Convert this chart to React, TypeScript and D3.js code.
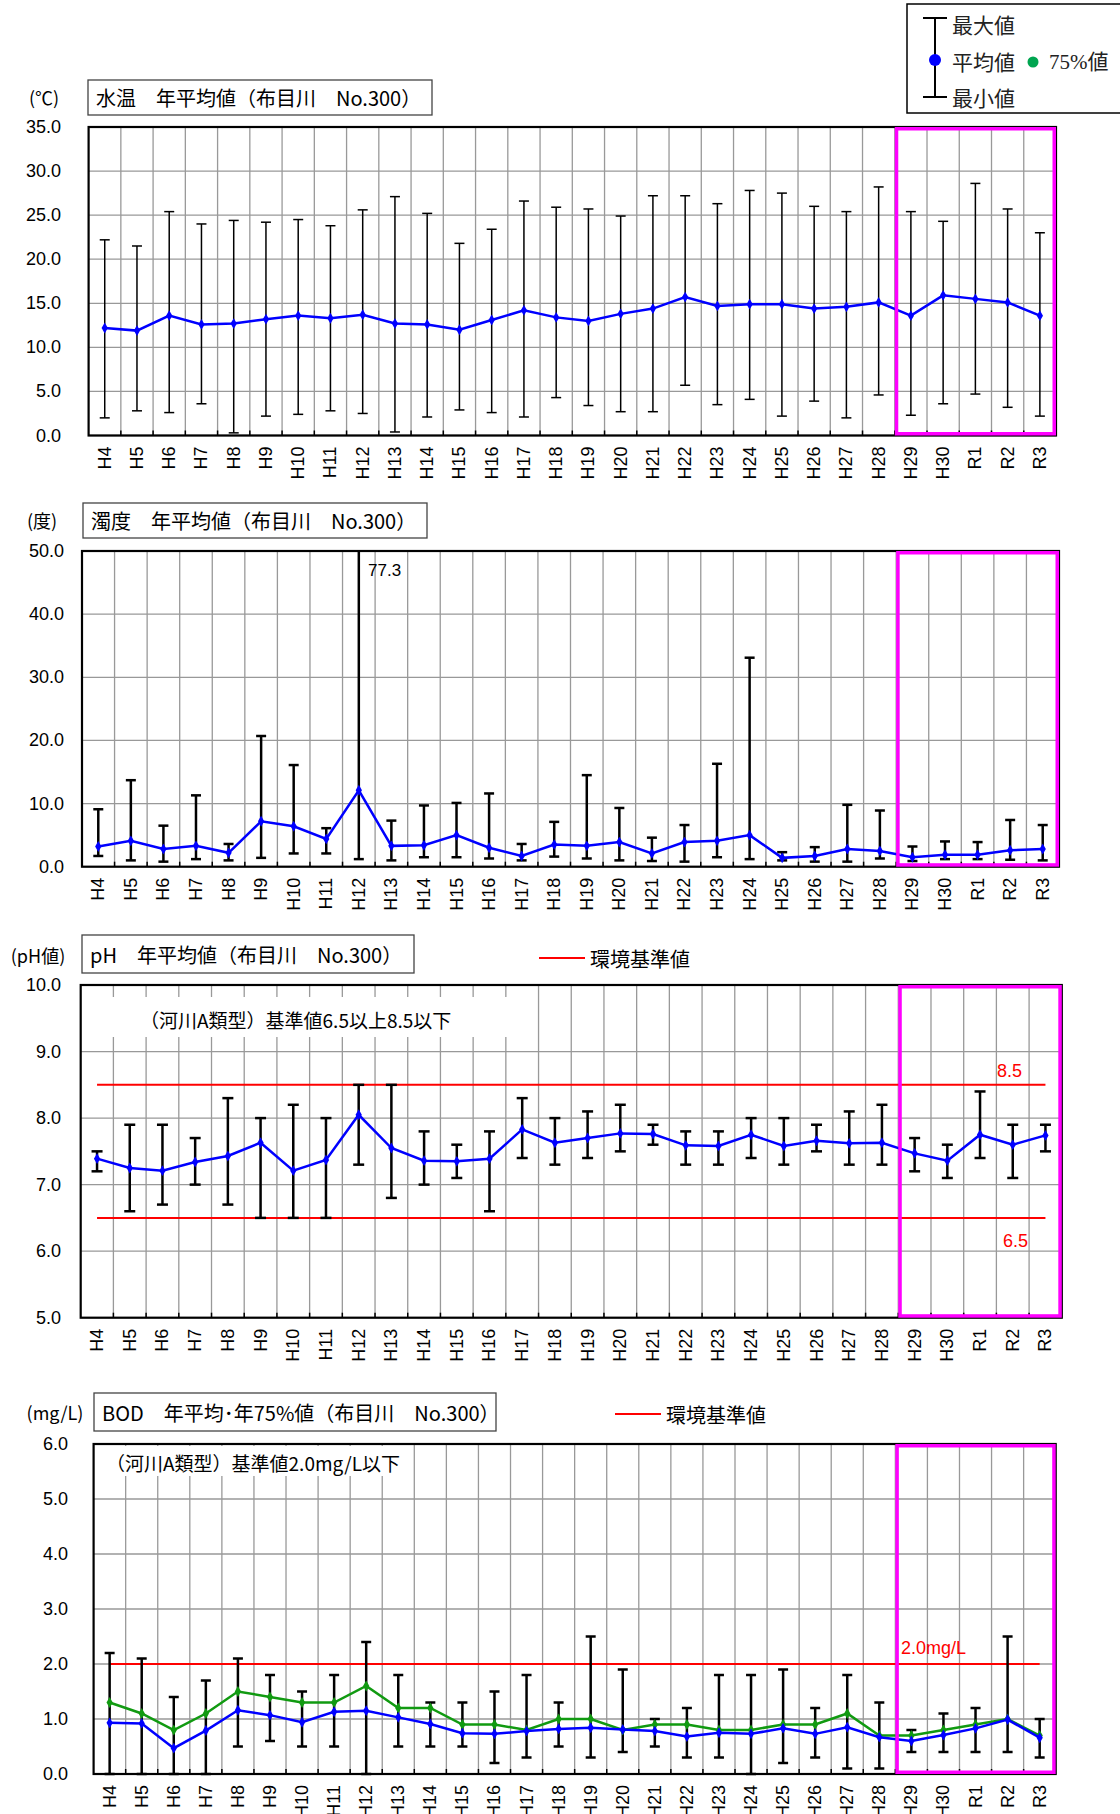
import React from "react";
import * as d3 from "d3";

const categories = [
  "H4", "H5", "H6", "H7", "H8", "H9", "H10", "H11", "H12", "H13",
  "H14", "H15", "H16", "H17", "H18", "H19", "H20", "H21", "H22", "H23",
  "H24", "H25", "H26", "H27", "H28", "H29", "H30", "R1", "R2", "R3",
];

// 水温
const tempMax = [22.2, 21.5, 25.4, 24.0, 24.4, 24.2, 24.5, 23.8, 25.6, 27.1, 25.2, 21.8, 23.4, 26.6, 25.9, 25.7, 24.9, 27.2, 27.2, 26.3, 27.8, 27.5, 26.0, 25.4, 28.2, 25.4, 24.3, 28.6, 25.7, 23.0];
const tempMean = [12.2, 11.9, 13.6, 12.6, 12.7, 13.2, 13.6, 13.3, 13.7, 12.7, 12.6, 12.0, 13.1, 14.2, 13.4, 13.0, 13.8, 14.4, 15.7, 14.7, 14.9, 14.9, 14.4, 14.6, 15.1, 13.6, 15.9, 15.5, 15.1, 13.6];
const tempMin = [2.0, 2.8, 2.6, 3.6, 0.3, 2.2, 2.4, 2.8, 2.5, 0.4, 2.1, 2.9, 2.6, 2.1, 4.3, 3.4, 2.7, 2.7, 5.7, 3.5, 4.1, 2.2, 3.9, 2.0, 4.6, 2.3, 3.6, 4.7, 3.2, 2.2];

// 濁度
const turbMax = [9.1, 13.7, 6.5, 11.3, 3.6, 20.7, 16.1, 6.1, 77.3, 7.3, 9.7, 10.1, 11.6, 3.6, 7.1, 14.5, 9.3, 4.6, 6.6, 16.3, 33.1, 2.3, 3.1, 9.8, 8.9, 3.2, 4.0, 3.9, 7.4, 6.6];
const turbMean = [3.2, 4.1, 2.8, 3.3, 2.2, 7.2, 6.4, 4.4, 12.1, 3.3, 3.4, 5.0, 3.0, 1.7, 3.5, 3.3, 3.9, 2.1, 3.9, 4.1, 5.0, 1.4, 1.7, 2.8, 2.5, 1.5, 1.9, 1.9, 2.6, 2.8];
const turbMin = [1.7, 1.0, 0.8, 1.2, 1.0, 1.4, 2.1, 2.1, 1.2, 1.0, 1.5, 1.5, 1.3, 1.0, 1.6, 1.3, 1.0, 0.9, 0.8, 1.5, 1.2, 1.0, 0.8, 0.8, 1.3, 0.9, 1.2, 1.2, 1.1, 1.0];

// pH
const phMax = [7.5, 7.9, 7.9, 7.7, 8.3, 8.0, 8.2, 8.0, 8.5, 8.5, 7.8, 7.6, 7.8, 8.3, 8.0, 8.1, 8.2, 7.9, 7.8, 7.8, 8.0, 8.0, 7.9, 8.1, 8.2, 7.7, 7.6, 8.4, 7.9, 7.9];
const phMean = [7.39, 7.25, 7.21, 7.34, 7.43, 7.63, 7.21, 7.37, 8.05, 7.55, 7.36, 7.35, 7.39, 7.83, 7.63, 7.7, 7.77, 7.76, 7.59, 7.58, 7.75, 7.58, 7.66, 7.62, 7.63, 7.47, 7.36, 7.75, 7.6, 7.74];
const phMin = [7.2, 6.6, 6.7, 7.0, 6.7, 6.5, 6.5, 6.5, 7.3, 6.8, 7.0, 7.1, 6.6, 7.4, 7.3, 7.4, 7.5, 7.6, 7.3, 7.3, 7.4, 7.3, 7.5, 7.3, 7.3, 7.2, 7.1, 7.4, 7.1, 7.5];
const phStandards = [8.5, 6.5];

// BOD
const bodMax = [2.2, 2.1, 1.4, 1.7, 2.1, 1.8, 1.5, 1.8, 2.4, 1.8, 1.3, 1.3, 1.5, 1.8, 1.3, 2.5, 1.9, 1.0, 1.2, 1.8, 1.8, 1.9, 1.2, 1.8, 1.3, 0.8, 1.1, 1.2, 2.5, 1.0];
const bodMean = [0.93, 0.92, 0.47, 0.79, 1.16, 1.07, 0.94, 1.13, 1.15, 1.03, 0.91, 0.74, 0.73, 0.78, 0.82, 0.84, 0.81, 0.78, 0.68, 0.75, 0.73, 0.83, 0.73, 0.85, 0.67, 0.6, 0.71, 0.83, 0.99, 0.66];
const bod75 = [1.3, 1.1, 0.8, 1.1, 1.5, 1.4, 1.3, 1.3, 1.6, 1.2, 1.2, 0.9, 0.9, 0.8, 1.0, 1.0, 0.8, 0.9, 0.9, 0.8, 0.8, 0.9, 0.9, 1.1, 0.7, 0.7, 0.8, 0.9, 1.0, 0.7];
const bodMin = [0.0, 0.0, 0.0, 0.0, 0.5, 0.6, 0.5, 0.5, 0.0, 0.5, 0.5, 0.5, 0.2, 0.3, 0.5, 0.3, 0.4, 0.5, 0.3, 0.3, 0.0, 0.2, 0.3, 0.1, 0.1, 0.4, 0.4, 0.4, 0.4, 0.3];
const bodStandards = [2.0];

const FONT = "'Liberation Sans', Arial, 'Noto Sans CJK JP', sans-serif";
const JFONT = "'Noto Sans CJK JP', 'Liberation Sans', sans-serif";
const BLUE = "#0000ff";
const GREEN = "#119a11";
const RED = "#ff0000";
const MAGENTA = "#ff00ff";

type RefLine = { v: number; label: string; lx: number; ly: number; anchor?: string };

type ChartProps = {
  left: number; right: number; top: number; bottom: number;
  domain: [number, number]; step: number; tickRight: number;
  maxArr: number[]; meanArr: number[]; minArr: number[]; p75Arr?: number[];
  barWidth: number; capW: number;
  refLines?: RefLine[];
  annotation?: { text: string; x: number; y: number; box: [number, number, number, number] };
  overflow?: { label: string; x: number; y: number };
};

function Chart(p: ChartProps) {
  const x = d3.scaleBand<string>().domain(categories).range([p.left, p.right]);
  const bw = x.bandwidth();
  const cx = (i: number) => (x(categories[i]) as number) + bw / 2;
  const y = d3.scaleLinear().domain(p.domain).range([p.bottom, p.top]);
  const ticks = d3.range(p.domain[0], p.domain[1] + p.step / 2, p.step);
  const line = d3.line<number>().x((_, i) => cx(i)).y((d) => y(d));
  const diamond = d3.symbol().type(d3.symbolDiamond).size(34)() as string;
  const boundaries = categories.map((c) => x(c) as number).slice(1);
  const magX = x("H29") as number;

  return (
    <g>
      {/* grid */}
      {ticks.map((t) => (
        <line key={"h" + t} x1={p.left} x2={p.right} y1={y(t)} y2={y(t)} stroke="#999" strokeWidth={1.3} />
      ))}
      {boundaries.map((bx, i) => (
        <line key={"v" + i} x1={bx} x2={bx} y1={p.top} y2={p.bottom} stroke="#999" strokeWidth={1.3} />
      ))}
      {boundaries.map((bx, i) => (
        <line key={"t" + i} x1={bx} x2={bx} y1={p.bottom - 5} y2={p.bottom} stroke="#000" strokeWidth={1.5} />
      ))}
      {/* annotation box */}
      {p.annotation && (
        <g>
          <rect x={p.annotation.box[0]} y={p.annotation.box[1]} width={p.annotation.box[2] - p.annotation.box[0]}
            height={p.annotation.box[3] - p.annotation.box[1]} fill="#fff" />
          <text x={p.annotation.x} y={p.annotation.y} fontFamily={JFONT} fontSize={19} dominantBaseline="central" fill="#000">
            {p.annotation.text}
          </text>
        </g>
      )}
      {/* reference lines */}
      {p.refLines && p.refLines.map((r) => (
        <g key={"r" + r.v}>
          <line x1={cx(0)} x2={cx(categories.length - 1)} y1={y(r.v)} y2={y(r.v)} stroke={RED} strokeWidth={2} />
          <text x={r.lx} y={r.ly} fill={RED} fontFamily={FONT} fontSize={18} dominantBaseline="central" textAnchor={r.anchor || "start"}>
            {r.label}
          </text>
        </g>
      ))}
      {/* error bars */}
      {categories.map((c, i) => {
        const yt = Math.max(y(p.maxArr[i]), p.top);
        const clipped = y(p.maxArr[i]) < p.top;
        const yb = y(p.minArr[i]);
        const X = cx(i);
        return (
          <g key={"e" + c} stroke="#000" strokeWidth={p.barWidth}>
            <line x1={X} x2={X} y1={yt} y2={yb} />
            {!clipped && <line x1={X - p.capW / 2} x2={X + p.capW / 2} y1={yt} y2={yt} />}
            <line x1={X - p.capW / 2} x2={X + p.capW / 2} y1={yb} y2={yb} />
          </g>
        );
      })}
      {p.overflow && (
        <text x={p.overflow.x} y={p.overflow.y} fontFamily={FONT} fontSize={17} dominantBaseline="central" fill="#000">
          {p.overflow.label}
        </text>
      )}
      {/* 75% series */}
      {p.p75Arr && (
        <g>
          <path d={line(p.p75Arr) as string} fill="none" stroke={GREEN} strokeWidth={2.5} />
          {p.p75Arr.map((v, i) => (
            <path key={"g" + i} d={diamond} transform={`translate(${cx(i)},${y(v)})`} fill={GREEN} />
          ))}
        </g>
      )}
      {/* mean series */}
      <path d={line(p.meanArr) as string} fill="none" stroke={BLUE} strokeWidth={2.5} />
      {p.meanArr.map((v, i) => (
        <path key={"m" + i} d={diamond} transform={`translate(${cx(i)},${y(v)})`} fill={BLUE} />
      ))}
      {/* frame */}
      <rect x={p.left} y={p.top} width={p.right - p.left} height={p.bottom - p.top} fill="none" stroke="#000" strokeWidth={2.2} />
      {/* magenta highlight */}
      <rect x={magX + 1.75} y={p.top + 1.75} width={p.right - magX - 3.5} height={p.bottom - p.top - 3.5}
        fill="none" stroke={MAGENTA} strokeWidth={3.5} />
      {/* y tick labels */}
      {ticks.map((t) => (
        <text key={"yl" + t} x={p.tickRight} y={y(t)} textAnchor="end" dominantBaseline="central"
          fontFamily={FONT} fontSize={18} fill="#000">
          {t.toFixed(1)}
        </text>
      ))}
      {/* x tick labels */}
      {categories.map((c, i) => (
        <text key={"xl" + c} transform={`translate(${cx(i)},${p.bottom + 11}) rotate(-90)`} textAnchor="end"
          dominantBaseline="central" fontFamily={FONT} fontSize={18} fill="#000">
          {c}
        </text>
      ))}
    </g>
  );
}

function TitleBox({ x0, x1, y0, y1, text }: { x0: number; x1: number; y0: number; y1: number; text: string }) {
  return (
    <g>
      <rect x={x0} y={y0} width={x1 - x0} height={y1 - y0} fill="#fff" stroke="#444" strokeWidth={1.3} />
      <text x={x0 + 8} y={(y0 + y1) / 2} dominantBaseline="central" fontFamily={JFONT} fontSize={20} fill="#000">
        {text}
      </text>
    </g>
  );
}

function Unit({ x, y, text }: { x: number; y: number; text: string }) {
  return (
    <text x={x} y={y} textAnchor="middle" dominantBaseline="central" fontFamily={JFONT} fontSize={18} fill="#000">
      {text}
    </text>
  );
}

function StdLegend({ x, y }: { x: number; y: number }) {
  return (
    <g>
      <line x1={x} x2={x + 46} y1={y} y2={y} stroke={RED} strokeWidth={2} />
      <text x={x + 51} y={y} dominantBaseline="central" fontFamily={JFONT} fontSize={20} fill="#000">環境基準値</text>
    </g>
  );
}

export default function App() {
  return (
    <svg width={1120} height={1814} style={{ position: "absolute", left: 0, top: 0, display: "block", background: "#fff" }}>
      <rect x={0} y={0} width={1120} height={1814} fill="#fff" />

      {/* legend */}
      <g>
        <rect x={907} y={4} width={220} height={109} fill="#fff" stroke="#000" strokeWidth={1.5} />
        <line x1={935} x2={935} y1={18} y2={97} stroke="#000" strokeWidth={2} />
        <line x1={923} x2={947} y1={18} y2={18} stroke="#000" strokeWidth={2} />
        <line x1={923} x2={947} y1={97} y2={97} stroke="#000" strokeWidth={2} />
        <circle cx={935} cy={60} r={6} fill={BLUE} />
        <text x={952} y={24} dominantBaseline="central" fontFamily={JFONT} fontSize={21} fill="#222">最大値</text>
        <text x={952} y={61} dominantBaseline="central" fontFamily={JFONT} fontSize={21} fill="#222">平均値</text>
        <text x={952} y={97} dominantBaseline="central" fontFamily={JFONT} fontSize={21} fill="#222">最小値</text>
        <circle cx={1033} cy={62} r={5.5} fill="#00a550" />
        <text x={1049} y={62} dominantBaseline="central" fontFamily="'Liberation Serif', 'Noto Sans CJK JP', serif" fontSize={21} fill="#222">75%値</text>
      </g>

      {/* Chart 1: 水温 */}
      <Unit x={44} y={97} text="(℃)" />
      <TitleBox x0={88} x1={432} y0={80} y1={115} text="水温　年平均値（布目川　No.300）" />
      <Chart left={88.6} right={1056} top={127} bottom={435.5} domain={[0, 35]} step={5} tickRight={61}
        maxArr={tempMax} meanArr={tempMean} minArr={tempMin} barWidth={1.5} capW={10} />

      {/* Chart 2: 濁度 */}
      <Unit x={42} y={520} text="(度)" />
      <TitleBox x0={83} x1={427} y0={503} y1={538} text="濁度　年平均値（布目川　No.300）" />
      <Chart left={82} right={1059} top={551} bottom={866.7} domain={[0, 50]} step={10} tickRight={64}
        maxArr={turbMax} meanArr={turbMean} minArr={turbMin} barWidth={2.5} capW={10}
        overflow={{ label: "77.3", x: 368, y: 570 }} />

      {/* Chart 3: pH */}
      <Unit x={38} y={955} text="(pH値)" />
      <TitleBox x0={82} x1={414} y0={935} y1={973} text="pH　年平均値（布目川　No.300）" />
      <StdLegend x={539} y={958} />
      <Chart left={80.7} right={1061.8} top={985} bottom={1317.7} domain={[5, 10]} step={1} tickRight={61}
        maxArr={phMax} meanArr={phMean} minArr={phMin} barWidth={2.5} capW={11}
        refLines={[
          { v: phStandards[0], label: "8.5", lx: 997, ly: 1071 },
          { v: phStandards[1], label: "6.5", lx: 1003, ly: 1241 },
        ]}
        annotation={{ text: "（河川A類型）基準値6.5以上8.5以下", x: 140, y: 1019, box: [82, 997, 520, 1037] }} />

      {/* Chart 4: BOD */}
      <Unit x={55} y={1412} text="(mg/L)" />
      <TitleBox x0={94} x1={496} y0={1393} y1={1431} text="BOD　年平均･年75%値（布目川　No.300）" />
      <StdLegend x={615} y={1414} />
      <Chart left={93.6} right={1055.7} top={1444} bottom={1774} domain={[0, 6]} step={1} tickRight={68}
        maxArr={bodMax} meanArr={bodMean} minArr={bodMin} p75Arr={bod75} barWidth={2.5} capW={10}
        refLines={[{ v: bodStandards[0], label: "2.0mg/L", lx: 901, ly: 1648 }]}
        annotation={{ text: "（河川A類型）基準値2.0mg/L以下", x: 106, y: 1462, box: [95, 1446, 400, 1476] }} />
    </svg>
  );
}
